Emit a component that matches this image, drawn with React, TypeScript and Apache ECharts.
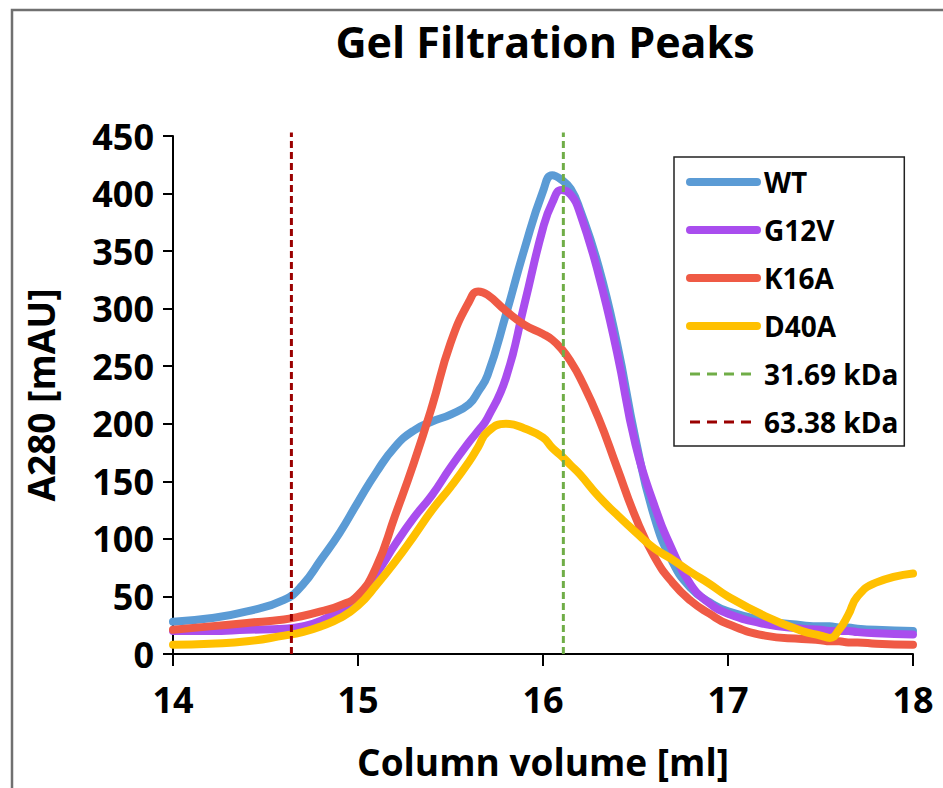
import React, { useEffect, useRef } from "react";
import * as echarts from "echarts";

// Column volume grid (ml)
const volume = [
  14.0, 14.2, 14.4, 14.6, 14.7, 14.8, 14.9, 15.0, 15.1, 15.2, 15.3, 15.4, 15.5, 15.6, 15.65, 15.7, 15.8, 15.9,
  16.0, 16.05, 16.1, 16.15, 16.2, 16.3, 16.4, 16.5, 16.6, 16.7, 16.8, 16.9, 17.0, 17.2, 17.4, 17.5, 17.55,
  17.6, 17.65, 17.7, 17.8, 18.0,
];
// A280 (mAU)
const wt = [
  28, 31, 37, 47, 60, 82, 105, 132, 158, 180, 194, 202, 208, 217, 228, 242, 295, 352,
  402, 416, 412, 404, 386, 337, 270, 187, 120, 80, 57, 45, 37, 29, 25, 24, 24,
  23, 23, 22, 21, 20,
];
const g12v = [
  20, 20, 21, 22, 24, 29, 38, 50, 70, 95, 118, 138, 162, 184, 194, 205, 240, 304,
  370, 392, 403, 399, 383, 330, 262, 182, 130, 90, 60, 44, 35, 26, 22, 21, 20,
  20, 20, 19, 18, 17,
];
const k16a = [
  21, 24, 27, 30, 33, 37, 42, 51, 76, 120, 165, 215, 270, 306, 315, 312, 298, 286,
  278, 273, 265, 254, 240, 205, 162, 119, 85, 62, 46, 35, 26, 16, 13, 12, 11,
  11, 10, 10, 9, 8,
];
const d40a = [
  8, 9, 11, 16, 19, 24, 31, 42, 60, 80, 102, 125, 145, 167, 180, 193, 200, 196,
  188, 179, 172, 164, 156, 137, 121, 106, 92, 82, 71, 61, 50, 33, 20, 16, 14,
  21, 34, 50, 62, 70,
];
// Molecular weight marker positions (ml)
const marker3169 = 16.11;
const marker6338 = 14.64;
const markerSpan = [0, 453];

const seriesNames = ["WT", "G12V", "K16A", "D40A", "31.69 kDa", "63.38 kDa"];
const colors = ["#5B9BD5", "#A94DEE", "#EF5A45", "#FFC000", "#70AD47", "#9A0000"];
const xTicks = { min: 14, max: 18, interval: 1 };
const yTicks = { min: 0, max: 450, interval: 50 };

const FONT = "'Open Sans', 'Noto Sans', sans-serif";

export default function App() {
  const ref = useRef<HTMLDivElement>(null);
  useEffect(() => {
    if (!ref.current) return;
    const chart = echarts.init(ref.current, null, { renderer: "svg" });
    const curves = [wt, g12v, k16a, d40a];
    const curveSeries = curves.map((vals, i) => ({
      name: seriesNames[i],
      type: "line",
      smooth: 0.5,
      symbol: "none",
      data: volume.map((v, j) => [v, vals[j]]),
      lineStyle: { color: colors[i], width: 8, cap: "round", join: "round" },
      itemStyle: { color: colors[i] },
      z: 2 + i,
    }));
    const markers = [marker3169, marker6338].map((m, i) => ({
      name: seriesNames[4 + i],
      type: "line",
      symbol: "none",
      clip: false,
      data: markerSpan.map((y) => [m, y]),
      lineStyle: { color: colors[4 + i], width: 3, type: [7, 4] },
      itemStyle: { color: colors[4 + i] },
      z: 10,
    }));
    chart.setOption({
      animation: false,
      backgroundColor: "#ffffff",
      title: {
        text: "Gel Filtration Peaks",
        left: 540,
        top: 15,
        textAlign: "center",
        textStyle: { fontFamily: FONT, fontWeight: "bold", fontSize: 43, color: "#000" },
      },
      graphic: [
        {
          type: "rect",
          shape: { x: 12, y: 10, width: 960, height: 800 },
          style: { fill: "none", stroke: "#707070", lineWidth: 2.5 },
          silent: true,
        },
      ],
      legend: {
        orient: "vertical",
        left: 674,
        top: 157,
        padding: [10, 6, 9, 12],
        itemGap: 18,
        itemWidth: 67,
        itemHeight: 8,
        borderColor: "#222",
        borderWidth: 1.5,
        textStyle: {
          fontFamily: FONT,
          fontWeight: "bold",
          fontSize: 28,
          lineHeight: 30,
          color: "#000",
          padding: [0, 0, 0, 2],
        },
        data: seriesNames.map((n, i) => ({
          name: n,
          itemStyle: { opacity: 0 },
          lineStyle:
            i < 4
              ? { width: 8, cap: "round", color: colors[i] }
              : { width: 3, type: [10, 7], color: colors[i] },
        })),
      },
      grid: { left: 173, right: 30, top: 136, bottom: 134, containLabel: false },
      xAxis: {
        type: "value",
        ...xTicks,
        name: "Column volume [ml]",
        nameLocation: "middle",
        nameGap: 89,
        nameTextStyle: { fontFamily: FONT, fontWeight: "bold", fontSize: 37, color: "#000" },
        axisLine: { lineStyle: { color: "#000", width: 2 } },
        axisTick: { inside: false, length: 12, lineStyle: { color: "#000", width: 2 } },
        axisLabel: { margin: 27, fontFamily: FONT, fontWeight: "bold", fontSize: 36, color: "#000" },
        splitLine: { show: false },
      },
      yAxis: {
        type: "value",
        ...yTicks,
        name: "A280 [mAU]",
        nameLocation: "middle",
        nameRotate: 90,
        nameGap: 114,
        nameTextStyle: { fontFamily: FONT, fontWeight: "bold", fontSize: 37, color: "#000" },
        axisLine: { show: true, lineStyle: { color: "#000", width: 2 } },
        axisTick: { show: true, inside: false, length: 10, lineStyle: { color: "#000", width: 2 } },
        axisLabel: { margin: 19, fontFamily: FONT, fontWeight: "bold", fontSize: 36, color: "#000" },
        splitLine: { show: false },
      },
      series: [...curveSeries, ...markers],
    });
    return () => chart.dispose();
  }, []);
  return (
    <div
      ref={ref}
      style={{ position: "fixed", left: 0, top: 0, width: 943, height: 788, background: "#fff" }}
    />
  );
}
